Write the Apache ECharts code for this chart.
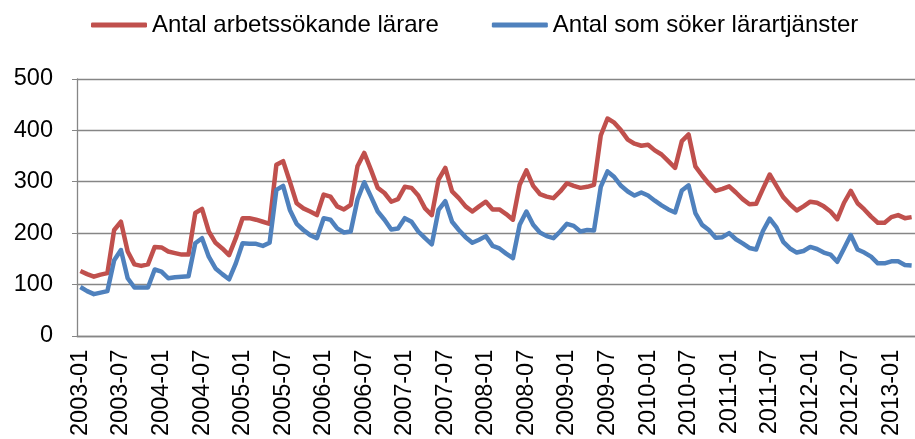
<!DOCTYPE html>
<html>
<head>
<meta charset="utf-8">
<script src="https://cdn.jsdelivr.net/npm/echarts@6/dist/echarts.min.js"></script>
<style>
html,body{margin:0;padding:0;background:#fff;}
#chart{width:915px;height:439px;}
</style>
</head>
<body>
<div id="chart"></div>
<script>
const months = [
"2003-01","2003-02","2003-03","2003-04","2003-05","2003-06","2003-07","2003-08","2003-09","2003-10","2003-11","2003-12",
"2004-01","2004-02","2004-03","2004-04","2004-05","2004-06","2004-07","2004-08","2004-09","2004-10","2004-11","2004-12",
"2005-01","2005-02","2005-03","2005-04","2005-05","2005-06","2005-07","2005-08","2005-09","2005-10","2005-11","2005-12",
"2006-01","2006-02","2006-03","2006-04","2006-05","2006-06","2006-07","2006-08","2006-09","2006-10","2006-11","2006-12",
"2007-01","2007-02","2007-03","2007-04","2007-05","2007-06","2007-07","2007-08","2007-09","2007-10","2007-11","2007-12",
"2008-01","2008-02","2008-03","2008-04","2008-05","2008-06","2008-07","2008-08","2008-09","2008-10","2008-11","2008-12",
"2009-01","2009-02","2009-03","2009-04","2009-05","2009-06","2009-07","2009-08","2009-09","2009-10","2009-11","2009-12",
"2010-01","2010-02","2010-03","2010-04","2010-05","2010-06","2010-07","2010-08","2010-09","2010-10","2010-11","2010-12",
"2011-01","2011-02","2011-03","2011-04","2011-05","2011-06","2011-07","2011-08","2011-09","2011-10","2011-11","2011-12",
"2012-01","2012-02","2012-03","2012-04","2012-05","2012-06","2012-07","2012-08","2012-09","2012-10","2012-11","2012-12",
"2013-01","2013-02","2013-03","2013-04"
];
const seriesNames = ["Antal arbetssökande lärare", "Antal som söker lärartjänster"];
const arbetssokande = [
126,120,115,119,122,206,222,164,139,136,139,173,
172,164,161,158,158,239,247,203,181,170,157,190,
229,229,226,222,218,333,340,300,258,248,242,235,
275,271,252,246,255,330,356,323,288,278,261,266,
290,288,273,248,235,304,327,281,268,252,242,252,
261,246,246,237,226,294,322,292,276,271,268,281,
297,292,288,290,294,390,423,415,400,382,374,370,
372,361,353,340,327,379,392,330,312,296,282,286,
291,279,266,256,257,286,314,292,270,256,244,252,
261,259,252,242,227,259,282,258,246,232,220,220,
231,235,229,231
];
const sokerTjanster = [
95,87,81,84,87,147,167,112,94,94,94,129,
125,112,114,115,116,180,190,154,131,120,110,141,
180,179,179,175,181,284,292,245,218,206,196,190,
229,226,209,201,203,265,299,271,242,226,207,209,
229,222,203,190,178,245,262,222,206,192,181,187,
194,175,170,160,151,216,242,216,201,194,190,203,
218,214,203,206,205,290,320,309,292,281,273,279,
273,263,254,246,240,283,293,239,216,206,191,192,
200,188,180,171,168,204,228,211,183,170,162,165,
173,169,162,158,144,170,196,168,162,154,141,141,
145,145,138,137
];
const yTicks = [0,100,200,300,400,500];

const FONT = "'Liberation Sans', Arial, sans-serif";
const chart = echarts.init(document.getElementById('chart'), null, {renderer:'canvas'});
chart.setOption({
  animation:false,
  backgroundColor:'#ffffff',
  color:['#C0504D','#4F81BD'],
  legend:{
    top:13, left:91, padding:0,
    itemWidth:56, itemHeight:5, itemGap:53,
    icon:'roundRect',
    textStyle:{fontFamily:FONT, fontSize:24, color:'#000'},
    data:seriesNames
  },
  grid:{left:77, top:79, width:840, height:257, containLabel:false},
  xAxis:{
    type:'category',
    data:months,
    boundaryGap:true,
    axisLine:{lineStyle:{color:'#868686', width:1.3}},
    axisTick:{interval:0, length:5, lineStyle:{color:'#868686'}},
    axisLabel:{interval:5, rotate:90, margin:14, fontFamily:FONT, fontSize:23.5, color:'#000'},
    splitLine:{show:false}
  },
  yAxis:{
    type:'value',
    min:yTicks[0], max:yTicks[yTicks.length-1], interval:100,
    axisLine:{show:true, lineStyle:{color:'#868686', width:1.3}},
    axisTick:{show:true, length:5, lineStyle:{color:'#868686'}},
    axisLabel:{margin:24, fontFamily:FONT, fontSize:23.5, color:'#000'},
    splitLine:{lineStyle:{color:'#868686', width:1.3}}
  },
  series:[
    {name:seriesNames[0], type:'line', data:arbetssokande, showSymbol:false, symbol:'none',
     lineStyle:{width:4.5, color:'#C0504D', join:'round'}},
    {name:seriesNames[1], type:'line', data:sokerTjanster, showSymbol:false, symbol:'none',
     lineStyle:{width:4.5, color:'#4F81BD', join:'round'}}
  ]
});
</script>
</body>
</html>
